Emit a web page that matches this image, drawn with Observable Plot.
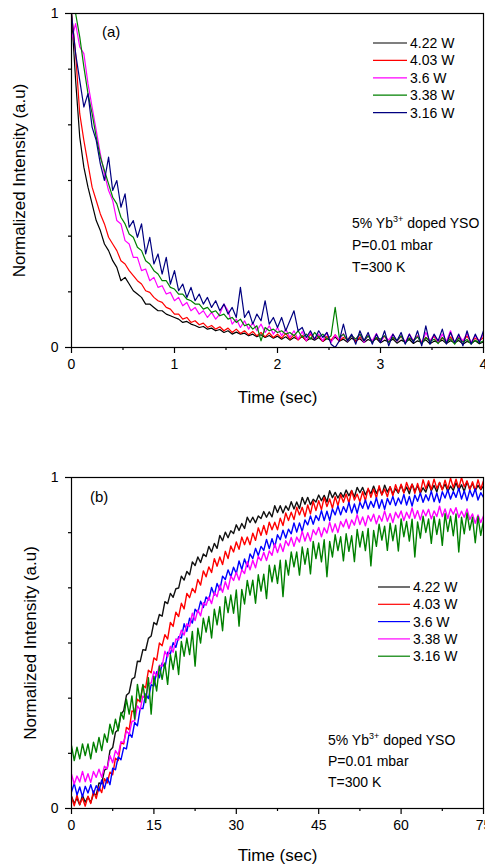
<!DOCTYPE html>
<html><head><meta charset="utf-8">
<script src="https://cdn.jsdelivr.net/npm/d3@7"></script>
<script src="https://cdn.jsdelivr.net/npm/@observablehq/plot@0.6"></script>
<style>body{margin:0;background:#fff;} #c>svg{display:block;}</style>
</head><body><div id="c"></div>
<script>
// ---------- Panel (a): decay, time step 0.04 s ----------
const stepA = 0.04;
const namesA = ["4.22 W","4.03 W","3.6 W","3.38 W","3.16 W"];
const colorsA = ["#000000","#ff0000","#ff00ff","#008000","#000080"];
const a422 = [1.00,0.80,0.63,0.54,0.48,0.43,0.38,0.35,0.31,0.29,
 0.26,0.24,0.20,0.21,0.19,0.17,0.16,0.15,0.13,0.13,
 0.12,0.11,0.11,0.10,0.095,0.09,0.085,0.075,0.078,0.07,
 0.066,0.06,0.063,0.055,0.058,0.05,0.054,0.045,0.05,0.04,
 0.046,0.04,0.043,0.035,0.04,0.032,0.038,0.03,0.036,0.028,
 0.034,0.025,0.032,0.022,0.03,0.024,0.033,0.02,0.028,0.022,
 0.03,0.018,0.027,0.02,0.031,0.019,0.025,0.016,0.028,0.02,
 0.026,0.015,0.024,0.018,0.027,0.014,0.022,0.017,0.025,0.013,
 0.022,0.016,0.024,0.012,0.02,0.015,0.023,0.011,0.019,0.016,
 0.022,0.012,0.02,0.014,0.021,0.01,0.018,0.013,0.02,0.011,0.017];
const a403 = [1.00,0.88,0.70,0.62,0.55,0.48,0.44,0.40,0.37,0.33,
 0.31,0.29,0.26,0.25,0.23,0.215,0.20,0.19,0.17,0.165,
 0.15,0.14,0.135,0.12,0.115,0.10,0.10,0.085,0.09,0.075,
 0.08,0.068,0.073,0.06,0.066,0.055,0.062,0.05,0.058,0.045,
 0.055,0.042,0.05,0.038,0.048,0.035,0.045,0.032,0.044,0.03,
 0.04,0.028,0.042,0.025,0.038,0.022,0.036,0.02,0.04,0.025,
 0.035,0.018,0.033,0.022,0.038,0.02,0.03,0.024,0.036,0.017,
 0.032,0.02,0.036,0.018,0.03,0.022,0.034,0.015,0.03,0.02,
 0.033,0.017,0.028,0.022,0.035,0.016,0.03,0.02,0.034,0.014,
 0.029,0.02,0.032,0.015,0.03,0.018,0.034,0.016,0.028,0.02,0.03];
const a360 = [0.92,0.97,0.90,0.88,0.79,0.72,0.65,0.58,0.52,0.47,
 0.44,0.38,0.37,0.32,0.31,0.27,0.27,0.23,0.235,0.20,
 0.21,0.18,0.185,0.16,0.165,0.14,0.15,0.125,0.135,0.11,
 0.12,0.10,0.11,0.09,0.105,0.085,0.10,0.13,0.11,0.07,
 0.085,0.06,0.08,0.055,0.075,0.05,0.07,0.045,0.065,0.04,
 0.06,0.035,0.055,0.03,0.05,0.025,0.048,0.02,0.045,0.025,
 0.04,0.02,0.045,0.015,0.038,0.022,0.042,0.018,0.035,0.025,
 0.04,0.015,0.036,0.02,0.042,0.016,0.035,0.022,0.04,0.018,
 0.036,0.015,0.04,0.02,0.034,0.012,0.045,0.02,0.038,0.015,
 0.04,0.018,0.05,0.012,0.036,0.02,0.042,0.015,0.035,0.02,0.04];
const a338 = [1.00,1.00,0.93,0.84,0.76,0.70,0.63,0.57,0.53,0.49,
 0.45,0.43,0.39,0.37,0.34,0.33,0.30,0.29,0.26,0.25,
 0.23,0.22,0.20,0.20,0.18,0.175,0.16,0.16,0.145,0.14,
 0.13,0.13,0.115,0.12,0.105,0.11,0.095,0.10,0.085,0.09,
 0.075,0.085,0.065,0.07,0.055,0.065,0.02,0.06,0.05,0.055,
 0.045,0.05,0.04,0.045,0.035,0.05,0.03,0.04,0.025,0.045,
 0.03,0.04,0.025,0.035,0.12,0.03,0.04,0.02,0.035,0.025,
 0.04,0.02,0.035,0.015,0.03,0.025,0.035,0.015,0.03,0.02,
 0.035,0.012,0.028,0.02,0.032,0.01,0.03,0.018,0.025,0.012,
 0.03,0.015,0.026,0.01,0.028,0.016,0.024,0.01,0.022,0.014,0.02];
const a316 = [1.00,0.88,0.80,0.72,0.76,0.66,0.62,0.55,0.50,0.57,
 0.47,0.50,0.42,0.46,0.36,0.38,0.33,0.37,0.28,0.33,
 0.25,0.28,0.22,0.27,0.19,0.23,0.17,0.19,0.15,0.18,
 0.14,0.16,0.13,0.15,0.12,0.14,0.11,0.13,0.10,0.12,
 0.09,0.18,0.09,0.11,0.07,0.10,0.08,0.14,0.07,0.09,
 0.06,0.09,0.05,0.08,0.11,0.05,0.06,0.03,0.05,0.025,
 0.05,0.03,0.045,0.01,0.00,0.02,0.07,0.02,0.04,0.01,
 0.05,0.02,0.045,0.01,0.04,0.015,0.05,0.005,0.04,0.02,
 0.045,0.01,0.04,0.015,0.05,0.005,0.065,0.01,0.04,0.02,
 0.055,0.01,0.045,0.015,0.04,0.005,0.05,0.01,0.04,0.015,0.05];
const seriesA = [a422, a403, a360, a338, a316];
const xMajorA = [0,1,2,3,4];
const xMinorA = [0.5,1.5,2.5,3.5];

// ---------- Panel (b): rise, time step 0.5 s ----------
const stepB = 0.5;
const namesB = ["4.22 W","4.03 W","3.6 W","3.38 W","3.16 W"];
const colorsB = ["#111111","#ff0000","#0000ff","#ff00ff","#008000"];
const b422 = [0.037,0.015,0.031,0.011,0.04,0.019,0.035,0.018,0.044,0.041,
 0.077,0.075,0.116,0.121,0.175,0.184,0.23,0.238,0.284,0.296,
 0.342,0.35,0.391,0.396,0.445,0.444,0.48,0.478,0.514,0.521,
 0.562,0.555,0.586,0.581,0.625,0.619,0.65,0.638,0.664,0.666,
 0.702,0.69,0.716,0.706,0.745,0.734,0.76,0.743,0.769,0.761,
 0.792,0.775,0.801,0.786,0.825,0.809,0.835,0.818,0.839,0.831,
 0.857,0.84,0.861,0.846,0.88,0.864,0.88,0.863,0.884,0.876,
 0.897,0.88,0.896,0.881,0.915,0.894,0.915,0.893,0.914,0.901,
 0.927,0.905,0.926,0.906,0.94,0.919,0.94,0.918,0.934,0.926,
 0.947,0.93,0.946,0.926,0.96,0.939,0.955,0.938,0.954,0.941,
 0.962,0.945,0.961,0.941,0.97,0.954,0.97,0.948,0.964,0.951,
 0.974,0.952,0.968,0.948,0.977,0.956,0.972,0.95,0.966,0.953,
 0.977,0.955,0.971,0.951,0.98,0.959,0.975,0.953,0.969,0.956,
 0.982,0.96,0.976,0.956,0.985,0.964,0.98,0.958,0.974,0.961,
 0.984,0.962,0.978,0.958,0.987,0.966,0.982,0.96,0.976,0.963,0.975];
const b403 = [0.035,0.008,0.04,0.012,0.032,0.007,0.037,0.015,0.053,0.03,
 0.065,0.048,0.09,0.077,0.11,0.102,0.152,0.145,0.198,0.195,
 0.245,0.238,0.295,0.292,0.33,0.322,0.372,0.365,0.418,0.41,
 0.455,0.448,0.50,0.492,0.525,0.512,0.562,0.55,0.593,0.58,
 0.62,0.603,0.65,0.637,0.665,0.652,0.692,0.675,0.718,0.70,
 0.73,0.713,0.755,0.732,0.76,0.737,0.777,0.755,0.793,0.775,
 0.805,0.783,0.82,0.797,0.82,0.797,0.832,0.81,0.848,0.825,
 0.855,0.828,0.865,0.842,0.865,0.842,0.877,0.855,0.893,0.87,
 0.895,0.873,0.91,0.887,0.91,0.882,0.917,0.89,0.928,0.90,
 0.93,0.903,0.94,0.912,0.935,0.907,0.942,0.915,0.948,0.925,
 0.95,0.923,0.96,0.932,0.95,0.927,0.957,0.93,0.968,0.94,
 0.965,0.938,0.975,0.947,0.965,0.942,0.972,0.945,0.978,0.955,
 0.98,0.953,0.985,0.962,0.98,0.952,0.982,0.955,0.993,0.965,
 0.99,0.963,0.995,0.967,0.985,0.962,0.992,0.965,0.998,0.97,
 0.995,0.968,1.0,0.972,0.99,0.962,0.987,0.96,0.993,0.965,0.99];
const b360 = [0.05,0.076,0.041,0.065,0.035,0.067,0.047,0.072,0.045,0.069,
 0.053,0.086,0.06,0.093,0.072,0.122,0.117,0.156,0.147,0.184,
 0.18,0.228,0.215,0.26,0.25,0.302,0.302,0.346,0.332,0.374,
 0.37,0.413,0.395,0.44,0.425,0.472,0.467,0.501,0.487,0.519,
 0.515,0.558,0.535,0.575,0.56,0.602,0.592,0.626,0.607,0.639,
 0.63,0.668,0.645,0.68,0.66,0.702,0.692,0.721,0.70,0.729,
 0.71,0.748,0.722,0.754,0.73,0.769,0.755,0.786,0.764,0.792,
 0.78,0.813,0.785,0.815,0.79,0.827,0.812,0.841,0.817,0.844,
 0.83,0.863,0.835,0.863,0.837,0.872,0.857,0.884,0.859,0.885,
 0.87,0.90,0.87,0.898,0.87,0.905,0.887,0.914,0.887,0.912,
 0.895,0.925,0.893,0.92,0.892,0.925,0.907,0.932,0.905,0.928,
 0.91,0.939,0.907,0.933,0.904,0.937,0.918,0.943,0.915,0.938,
 0.92,0.949,0.917,0.943,0.914,0.947,0.928,0.953,0.925,0.948,
 0.93,0.959,0.927,0.953,0.924,0.957,0.938,0.963,0.935,0.958,
 0.94,0.968,0.935,0.96,0.93,0.962,0.942,0.966,0.932,0.954,0.94];
const b338 = [0.104,0.074,0.098,0.08,0.112,0.081,0.105,0.079,0.112,0.094,
 0.119,0.094,0.128,0.12,0.16,0.138,0.175,0.162,0.202,0.199,
 0.234,0.224,0.263,0.265,0.31,0.298,0.34,0.332,0.377,0.379,
 0.414,0.399,0.433,0.43,0.475,0.458,0.49,0.472,0.512,0.509,
 0.539,0.524,0.558,0.55,0.59,0.568,0.60,0.582,0.622,0.614,
 0.639,0.619,0.653,0.64,0.675,0.653,0.685,0.662,0.702,0.689,
 0.714,0.69,0.721,0.71,0.746,0.721,0.75,0.727,0.762,0.749,
 0.774,0.749,0.778,0.765,0.80,0.773,0.80,0.776,0.809,0.794,
 0.819,0.792,0.82,0.805,0.838,0.808,0.833,0.808,0.842,0.827,
 0.849,0.821,0.848,0.832,0.865,0.835,0.86,0.834,0.867,0.851,
 0.874,0.846,0.872,0.856,0.888,0.858,0.881,0.854,0.885,0.868,
 0.889,0.86,0.885,0.868,0.899,0.868,0.891,0.864,0.895,0.878,
 0.899,0.87,0.895,0.877,0.908,0.877,0.90,0.872,0.902,0.884,
 0.904,0.875,0.899,0.882,0.913,0.882,0.905,0.876,0.906,0.889,
 0.909,0.879,0.898,0.88,0.905,0.873,0.89,0.862,0.887,0.864,0.884];
const b316 = [0.19,0.145,0.185,0.15,0.195,0.16,0.195,0.15,0.20,0.17,
 0.215,0.175,0.225,0.20,0.255,0.225,0.27,0.235,0.29,0.27,
 0.33,0.285,0.34,0.27,0.375,0.325,0.375,0.32,0.395,0.285,0.40,0.355,0.43,0.39,0.44,0.375,
 0.465,0.42,0.475,0.405,0.505,0.46,0.515,0.465,0.535,0.43,0.545,0.50,0.575,0.533,0.58,0.515,
 0.602,0.555,0.61,0.537,0.64,0.592,0.645,0.59,0.66,0.551,0.662,0.618,0.689,0.645,0.69,0.62,
 0.706,0.657,0.708,0.634,0.735,0.685,0.735,0.68,0.75,0.64,0.75,0.705,0.775,0.73,0.775,0.705,
 0.79,0.738,0.786,0.709,0.807,0.755,0.802,0.745,0.812,0.70,0.807,0.76,0.827,0.779,0.821,0.748,
 0.83,0.777,0.824,0.746,0.843,0.79,0.837,0.779,0.846,0.733,0.84,0.792,0.859,0.811,0.853,0.78,
 0.862,0.809,0.856,0.778,0.875,0.821,0.867,0.808,0.874,0.76,0.866,0.817,0.883,0.834,0.875,0.801,
 0.882,0.828,0.874,0.795,0.891,0.837,0.883,0.824,0.89,0.775,0.88,0.83,0.893,0.841,0.88,0.803,
 0.882,0.825,0.87];
const seriesB = [b422, b403, b360, b338, b316];
const xMajorB = [0,15,30,45,60,75];
const xMinorB = [7.5,22.5,37.5,52.5,67.5];

const yMajor = [0,1];
const yMinor = [1/6,2/6,3/6,4/6,5/6];
const annot = ["5% Yb", "3+", " doped YSO", "P=0.01 mbar", "T=300 K"];

const FONT = "'Liberation Sans', Arial, Helvetica, sans-serif";

function toRows(names, series, step) {
  return names.flatMap((s, k) => series[k].map((v, i) => ({t: i * step, v, s})));
}

function legendMark(names, colors, offRight, offTop, rowH, lineLen) {
  return (index, scales, values, dims) => {
    const g = d3.create("svg:g").attr("font-family", FONT).attr("font-size", 14);
    const x0 = dims.width - dims.marginRight - offRight;
    names.forEach((n, i) => {
      const y = dims.marginTop + offTop + i * rowH;
      g.append("line").attr("x1", x0).attr("x2", x0 + lineLen).attr("y1", y).attr("y2", y)
        .attr("stroke", colors[i]).attr("stroke-width", 1.2);
      g.append("text").attr("x", x0 + lineLen + 3).attr("y", y).attr("dy", "0.35em")
        .attr("fill", "#000").attr("text-anchor", "start").text(n);
    });
    return g.node();
  };
}

function annotMark(offLeft, offTop, rowH, tag, tagLeft, tagTop) {
  return (index, scales, values, dims) => {
    const g = d3.create("svg:g").attr("font-family", FONT).attr("font-size", 14).attr("fill", "#000");
    const x0 = dims.marginLeft + offLeft;
    const y0 = dims.marginTop + offTop;
    const t1 = g.append("text").attr("x", x0).attr("y", y0).attr("dy", "0.35em").attr("text-anchor", "start");
    t1.append("tspan").text(annot[0]);
    t1.append("tspan").attr("font-size", 9).attr("dy", -6).text(annot[1]);
    t1.append("tspan").attr("dy", 6).text(annot[2]);
    g.append("text").attr("x", x0).attr("y", y0 + rowH).attr("dy", "0.35em").attr("text-anchor", "start").text(annot[3]);
    g.append("text").attr("x", x0).attr("y", y0 + 2 * rowH).attr("dy", "0.35em").attr("text-anchor", "start").text(annot[4]);
    g.append("text").attr("x", dims.marginLeft + tagLeft).attr("y", dims.marginTop + tagTop).attr("dy", "0.35em")
      .attr("text-anchor", "start").attr("font-size", 15).text(tag);
    return g.node();
  };
}

function panel(o) {
  return Plot.plot({
    width: 485, height: o.height,
    marginLeft: 71, marginRight: 2, marginTop: o.mt, marginBottom: o.mb,
    style: {fontFamily: FONT, fontSize: "14px", color: "#000", background: "#fff"},
    x: {domain: o.xDomain},
    y: {domain: [0, 1]},
    color: {domain: o.names, range: o.colors},
    marks: [
      Plot.line(o.rows, {x: "t", y: "v", z: "s", stroke: "s", strokeWidth: o.sw, clip: true}),
      Plot.frame({stroke: "#000", strokeWidth: 1.2}),
      Plot.axisX({ticks: o.xMajor, tickSize: 6, tickPadding: 6, fontSize: 14, tickFormat: d => String(d), label: null, strokeWidth: 1.2}),
      Plot.axisX({ticks: o.xMinor, tickSize: 3, tickFormat: () => "", label: null, strokeWidth: 1.2}),
      Plot.axisY({ticks: yMajor, tickSize: 6, tickPadding: 7, fontSize: 14, tickFormat: d => String(d), label: null, strokeWidth: 1.2}),
      Plot.axisY({ticks: yMinor, tickSize: 3, tickFormat: () => "", label: null, strokeWidth: 1.2}),
      Plot.text(["Time (sec)"], {text: d => d, frameAnchor: "bottom", dy: o.xLabDy, fontSize: 17, lineAnchor: "middle"}),
      Plot.text(["Normalized Intensity (a.u)"], {text: d => d, frameAnchor: "left", dx: o.yLabDx, rotate: -90, fontSize: 17, lineAnchor: "middle", textAnchor: "middle"}),
      legendMark(o.names, o.colors, o.legRight, o.legTop, o.legRow, o.legLen),
      annotMark(o.anLeft, o.anTop, o.anRow, o.tag, o.tagLeft, o.tagTop)
    ]
  });
}

const c = document.getElementById("c");
c.appendChild(panel({
  height: 430, mt: 13, mb: 83, xDomain: [0, 4], names: namesA, colors: colorsA,
  rows: toRows(namesA, seriesA, stepA), sw: 1.2, xMajor: xMajorA, xMinor: xMinorA,
  xLabDy: 50, yLabDx: -52, legRight: 110, legTop: 30, legRow: 17.4, legLen: 34,
  anLeft: 281, anTop: 210, anRow: 22, tag: "(a)", tagLeft: 31, tagTop: 19
}));
c.appendChild(panel({
  height: 437, mt: 47, mb: 59, xDomain: [0, 75], names: namesB, colors: colorsB,
  rows: toRows(namesB, seriesB, stepB), sw: 1.4, xMajor: xMajorB, xMinor: xMinorB,
  xLabDy: 47, yLabDx: -41, legRight: 105, legTop: 110, legRow: 17.3, legLen: 32,
  anLeft: 257, anTop: 263, anRow: 21, tag: "(b)", tagLeft: 19, tagTop: 20
}));
</script>
</body></html>
